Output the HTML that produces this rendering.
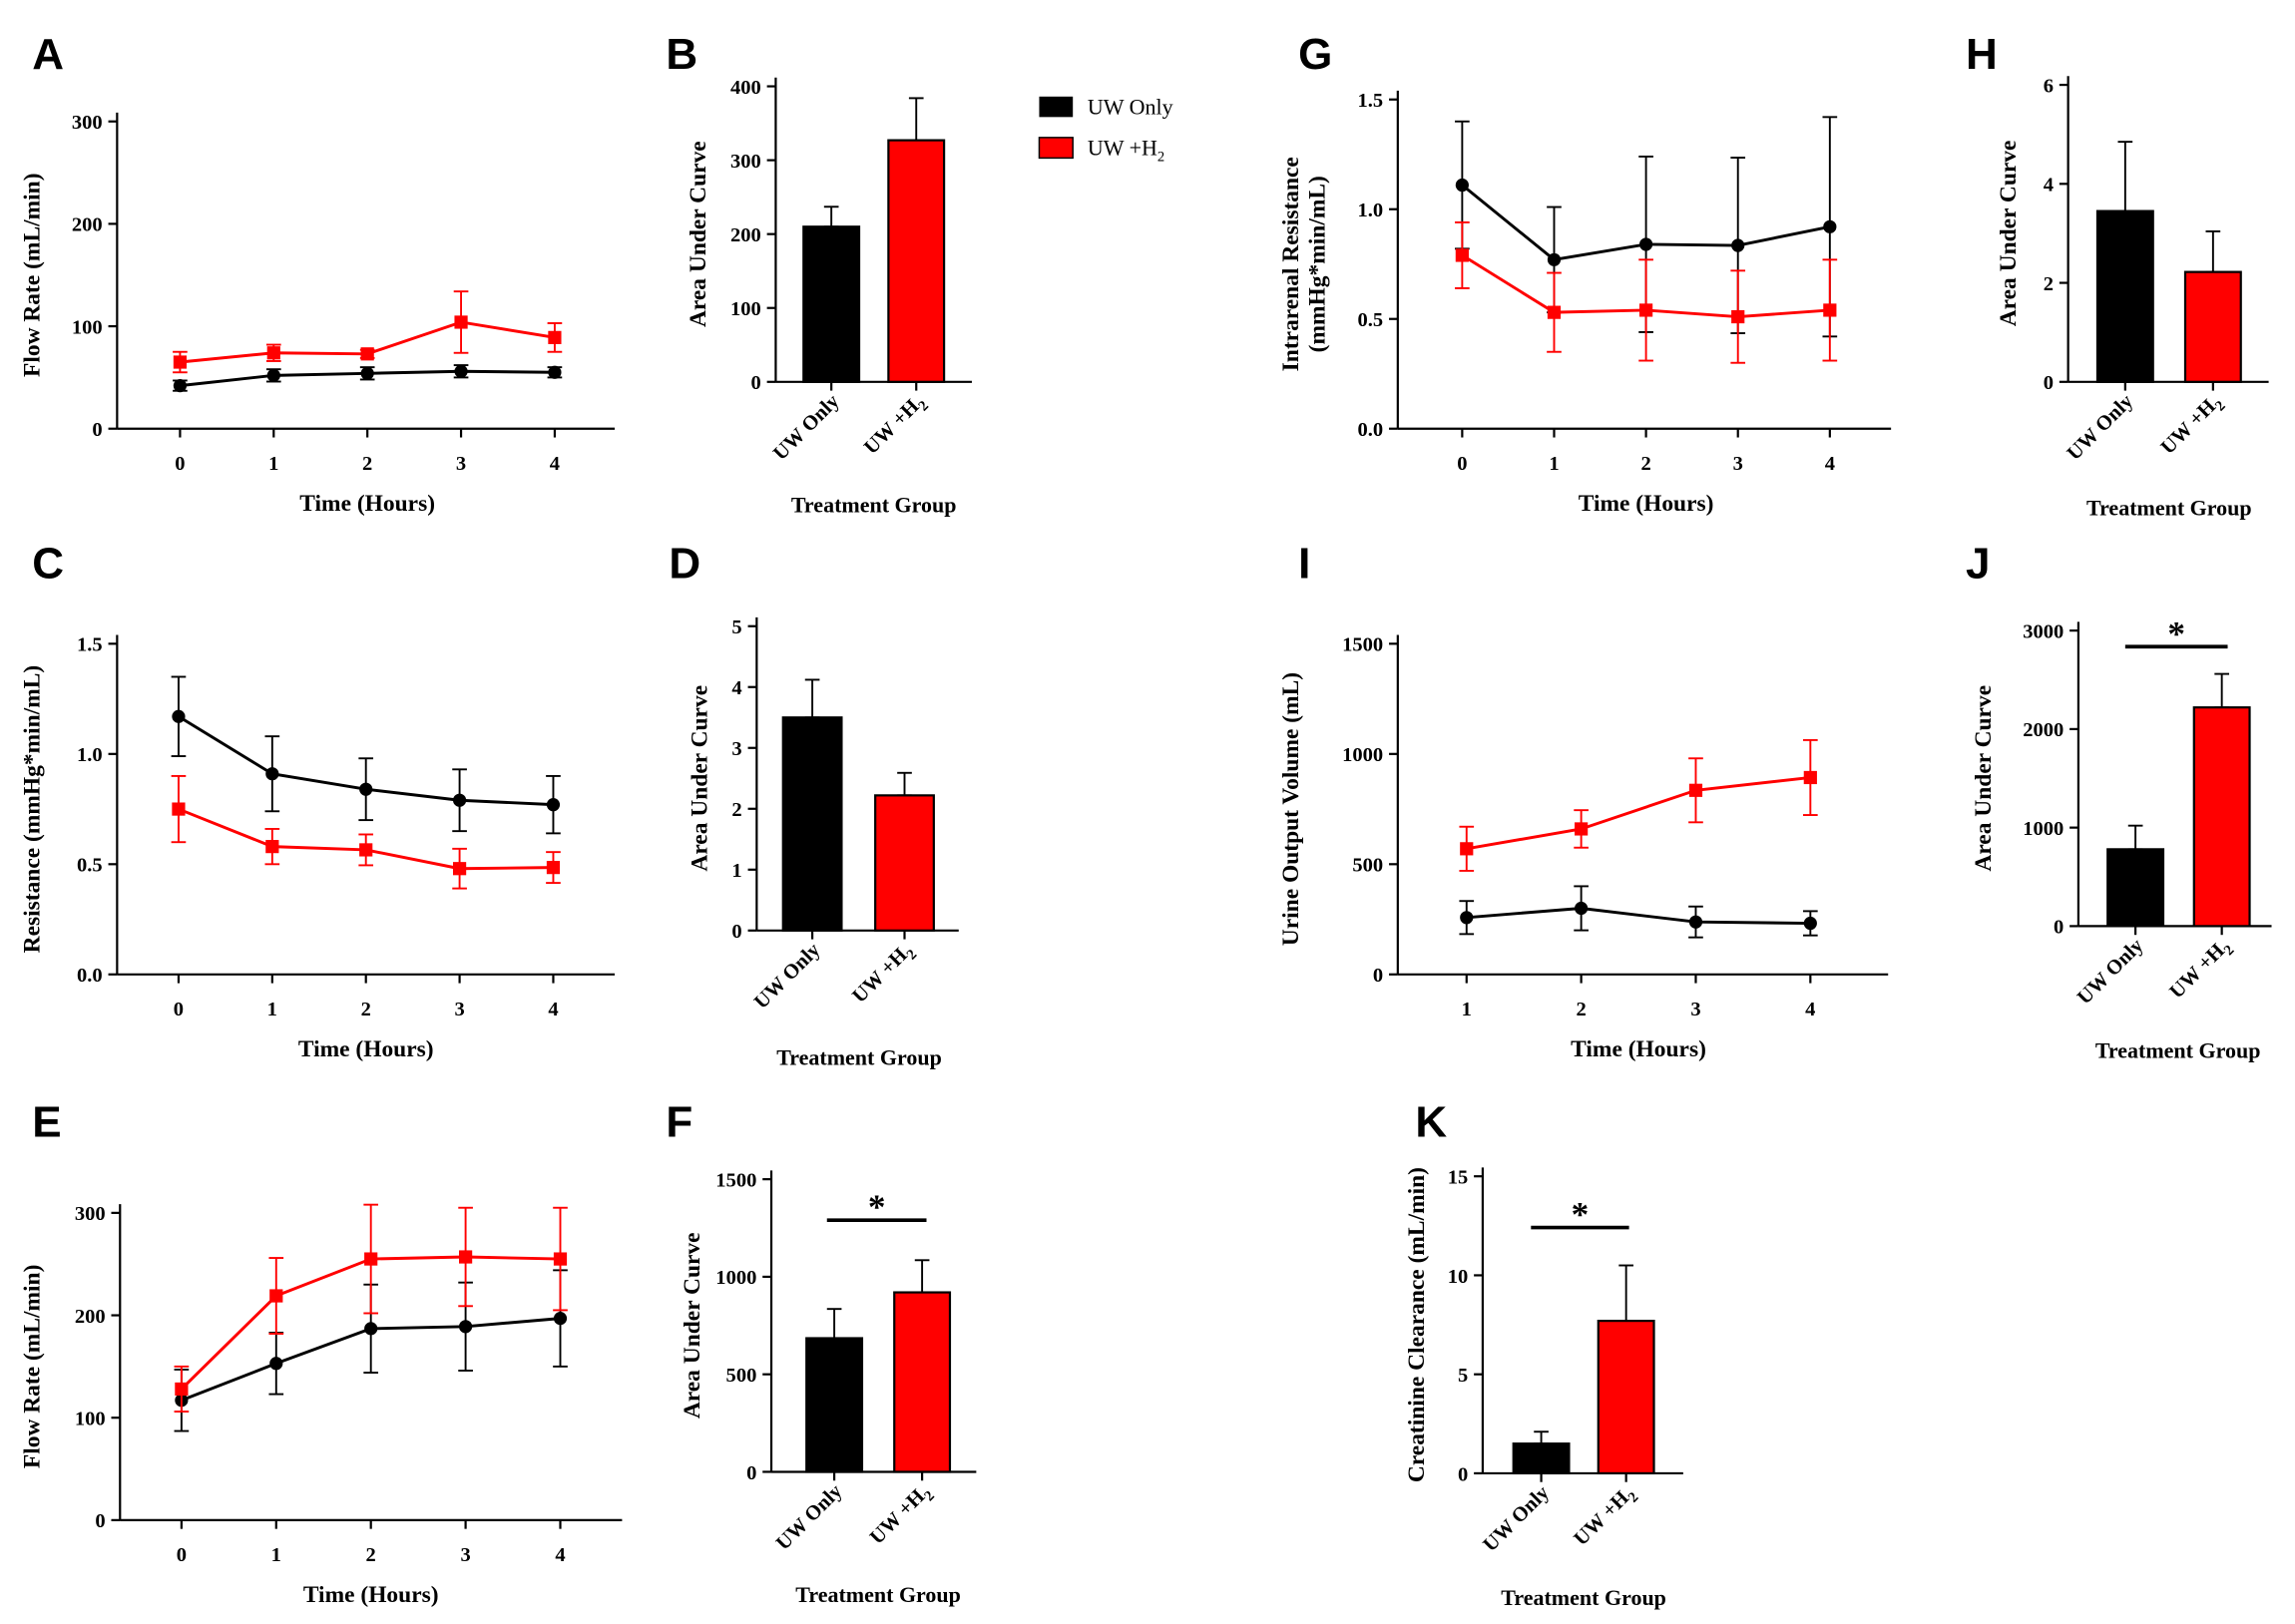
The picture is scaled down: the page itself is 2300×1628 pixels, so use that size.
<!DOCTYPE html>
<html><head><meta charset="utf-8">
<style>
html,body{margin:0;padding:0;background:#fff;}
svg{display:block;}
text{font-family:"Liberation Serif",serif;font-weight:bold;fill:#000;}
</style></head>
<body>
<svg id="fig" width="2300" height="1628" viewBox="0 0 1568 1110" preserveAspectRatio="none" xmlns="http://www.w3.org/2000/svg">
<rect width="1568" height="1110" fill="#fff"/>
<g>
<rect x="710" y="66" width="23" height="14" fill="#000"/>
<text x="743" y="78" font-size="15" style="font-weight:normal">UW Only</text>
<rect x="710" y="94" width="23" height="14" fill="#f00" stroke="#000" stroke-width="1"/>
<text x="743" y="106" font-size="15" style="font-weight:normal">UW +H<tspan font-size="10" dy="4">2</tspan></text>
</g>
</svg>
<script>
// Panel A
const aCats=["0","1","2","3","4"], aTicks=[0,100,200,300];
const aBlack=[42,52,54,56,55], aBlackErr=[5,6,6,6,5];
const aRed=[65,74,73,104,89], aRedErr=[10,8,4,30,14];
// Panel B
const bTicks=[0,100,200,300,400], bVals=[210,327], bErr=[27,57];
// Panel C
const cCats=["0","1","2","3","4"], cTicks=[0,0.5,1.0,1.5];
const cBlack=[1.17,0.91,0.84,0.79,0.77], cBlackErr=[0.18,0.17,0.14,0.14,0.13];
const cRed=[0.75,0.58,0.565,0.48,0.485], cRedErr=[0.15,0.08,0.07,0.09,0.07];
// Panel D
const dTicks=[0,1,2,3,4,5], dVals=[3.5,2.22], dErr=[0.62,0.37];
// Panel E
const eCats=["0","1","2","3","4"], eTicks=[0,100,200,300];
const eBlack=[117,153,187,189,197], eBlackErr=[30,30,43,43,47];
const eRed=[128,219,255,257,255], eRedErr=[22,37,53,48,50];
// Panel F
const fTicks=[0,500,1000,1500], fVals=[685,920], fErr=[150,165];
// Panel G
const gCats=["0","1","2","3","4"], gTicks=[0,0.5,1.0,1.5];
const gBlack=[1.11,0.77,0.84,0.835,0.92], gBlackErr=[0.29,0.24,0.40,0.40,0.50];
const gRed=[0.79,0.53,0.54,0.51,0.54], gRedErr=[0.15,0.18,0.23,0.21,0.23];
// Panel H
const hTicks=[0,2,4,6], hVals=[3.45,2.22], hErr=[1.4,0.82];
// Panel I
const iCats=["1","2","3","4"], iTicks=[0,500,1000,1500];
const iBlack=[258,300,238,232], iBlackErr=[75,100,70,55];
const iRed=[570,660,835,893], iRedErr=[100,85,145,170];
// Panel J
const jTicks=[0,1000,2000,3000], jVals=[780,2220], jErr=[240,340];
// Panel K
const kTicks=[0,5,10,15], kVals=[1.5,7.7], kErr=[0.6,2.8];

const svg=document.getElementById('fig');
const NS="http://www.w3.org/2000/svg";
function mk(tag,attrs,parent){const e=document.createElementNS(NS,tag);for(const k in attrs)e.setAttribute(k,attrs[k]);(parent||svg).appendChild(e);return e;}
function fmt(v,dec){return dec?v.toFixed(1):String(v);}

function yAxis(g,L,ticks,dec){
  const y=v=>L.zeroY-(v/L.yMax)*(L.zeroY-L.topY);
  const ax=mk('line',{x1:L.x0,x2:L.x0,y1:L.zeroY,y2:L.topY-6,stroke:'#000','stroke-width':1.5},g);
  
  ticks.forEach(t=>{
    const ty=y(t);
    const tl=mk('line',{x1:L.x0-6,x2:L.x0,y1:ty,y2:ty,stroke:'#000','stroke-width':1.5},g);
    
    const tx=mk('text',{x:L.x0-10,y:ty+5,'text-anchor':'end','font-size':14},g);
    
    tx.textContent=fmt(t,dec);
  });
  const xl=mk('line',{x1:L.x0,x2:L.x1,y1:L.zeroY,y2:L.zeroY,stroke:'#000','stroke-width':1.5},g);
  
  return y;
}
function yTitle(g,x,cy,lines){
  lines.forEach((s,i)=>{
    const t=mk('text',{x:0,y:0,'text-anchor':'middle','font-size':16,transform:`translate(${x+i*18},${cy}) rotate(-90)`},g);
    
    t.textContent=s;
  });
}
function letter(ch,x,y){
  const t=mk('text',{x:x,y:y,'font-size':30});
  
  t.style.fontFamily='"Liberation Sans",sans-serif';
  t.textContent=ch;
}
function errBar(g,x,ye1,ye2,color,name){
  const l=mk('line',{x1:x,x2:x,y1:ye1,y2:ye2,stroke:color,'stroke-width':1.3},g);
  
  [ye1,ye2].forEach(yy=>{const c=mk('line',{x1:x-5,x2:x+5,y1:yy,y2:yy,stroke:color,'stroke-width':1.3},g);
    });
}
function lineChart(id,L,cats,ticks,dec,series){
  const g=mk('g',{});
  const y=yAxis(g,L,ticks,dec);
  const x=i=>L.cx0+i*L.cdx;
  cats.forEach((c,i)=>{
    const tl=mk('line',{x1:x(i),x2:x(i),y1:L.zeroY,y2:L.zeroY+6,stroke:'#000','stroke-width':1.5},g);
    
    const t=mk('text',{x:x(i),y:L.zeroY+28,'text-anchor':'middle','font-size':14},g);
    
    t.textContent=c;
  });
  const xt=mk('text',{x:(L.cx0+x(cats.length-1))/2,y:L.zeroY+56,'text-anchor':'middle','font-size':16},g);
  
  xt.textContent='Time (Hours)';
  series.forEach(s=>{
    s.vals.forEach((v,i)=>errBar(g,x(i),y(v+s.err[i]),y(v-s.err[i]),s.color,s.name+'-error-bar'));
    const p=mk('polyline',{points:s.vals.map((v,i)=>x(i)+','+y(v)).join(' '),fill:'none',stroke:s.color,'stroke-width':2},g);
    
    s.vals.forEach((v,i)=>{
      let m;
      if(s.square)m=mk('rect',{x:x(i)-4.5,y:y(v)-4.5,width:9,height:9,fill:s.color},g);
      else m=mk('circle',{cx:x(i),cy:y(v),r:4.5,fill:s.color},g);
      
    });
  });
  yTitle(g,L.titleX,(L.zeroY+L.topY)/2,L.title);
}
function barChart(id,L,ticks,vals,errs,sig){
  const g=mk('g',{});
  const y=yAxis(g,L,ticks,false);
  const colors=['#000','#f00'];
  vals.forEach((v,i)=>{
    const cx=L.bx0+i*L.bdx;
    errBar(g,cx,y(v+errs[i]),y(v),'#000',(i?'uw-h2':'uw-only')+'-error-bar');
    const r=mk('rect',{x:cx-L.bw/2,y:y(v),width:L.bw,height:L.zeroY-y(v),fill:colors[i],stroke:'#000','stroke-width':1.5},g);
    
    const tk=mk('line',{x1:cx,x2:cx,y1:L.zeroY,y2:L.zeroY+6,stroke:'#000','stroke-width':1.5},g);
    
    const t=mk('text',{x:0,y:0,'text-anchor':'end','font-size':14,transform:`translate(${cx+6},${L.zeroY+14}) rotate(-45)`},g);
    
    if(i) t.innerHTML='UW +H<tspan font-size="10" dy="4">2</tspan>'; else t.textContent='UW Only';
  });
  const xt=mk('text',{x:L.tgX,y:L.tgY,'text-anchor':'middle','font-size':15},g);
  
  xt.textContent='Treatment Group';
  if(sig){
    const l=mk('line',{x1:sig[0],x2:sig[1],y1:sig[2],y2:sig[2],stroke:'#000','stroke-width':2.5},g);
    
    const s=mk('text',{x:(sig[0]+sig[1])/2,y:sig[2]-1,'text-anchor':'middle','font-size':24},g);
    
    s.textContent='*';
  }
  yTitle(g,L.titleX,(L.zeroY+L.topY)/2,[L.title||'Area Under Curve']);
}
const BLK=(v,e)=>({vals:v,err:e,color:'#000',square:false,name:'uw-only'});
const RED=(v,e)=>({vals:v,err:e,color:'#f00',square:true,name:'uw-h2'});

lineChart('a',{x0:80,x1:420,zeroY:293,topY:83,yMax:300,cx0:123,cdx:64,titleX:27,title:['Flow Rate (mL/min)']},aCats,aTicks,false,[BLK(aBlack,aBlackErr),RED(aRed,aRedErr)]);
barChart('b',{x0:530,x1:664,zeroY:261,topY:59,yMax:400,bx0:568,bdx:58,bw:38,tgX:597,tgY:350,titleX:482},bTicks,bVals,bErr,null);
lineChart('c',{x0:80,x1:420,zeroY:666,topY:440,yMax:1.5,cx0:122,cdx:64,titleX:27,title:['Resistance (mmHg*min/mL)']},cCats,cTicks,true,[BLK(cBlack,cBlackErr),RED(cRed,cRedErr)]);
barChart('d',{x0:517,x1:655,zeroY:636,topY:428,yMax:5,bx0:555,bdx:63,bw:40,tgX:587,tgY:728,titleX:483},dTicks,dVals,dErr,null);
lineChart('e',{x0:82,x1:425,zeroY:1039,topY:829,yMax:300,cx0:124,cdx:64.7,titleX:27,title:['Flow Rate (mL/min)']},eCats,eTicks,false,[BLK(eBlack,eBlackErr),RED(eRed,eRedErr)]);
barChart('f',{x0:527,x1:667,zeroY:1006,topY:806,yMax:1500,bx0:570,bdx:60,bw:38,tgX:600,tgY:1095,titleX:478},fTicks,fVals,fErr,[565,633,834]);
lineChart('g',{x0:955,x1:1292,zeroY:293,topY:68,yMax:1.5,cx0:999,cdx:62.8,titleX:887,title:['Intrarenal Resistance','(mmHg*min/mL)']},gCats,gTicks,true,[BLK(gBlack,gBlackErr),RED(gRed,gRedErr)]);
barChart('h',{x0:1413,x1:1550,zeroY:261,topY:58,yMax:6,bx0:1452,bdx:60,bw:38,tgX:1482,tgY:352,titleX:1377},hTicks,hVals,hErr,null);
lineChart('i',{x0:955,x1:1290,zeroY:666,topY:440,yMax:1500,cx0:1002,cdx:78.3,titleX:887,title:['Urine Output Volume (mL)']},iCats,iTicks,false,[BLK(iBlack,iBlackErr),RED(iRed,iRedErr)]);
barChart('j',{x0:1420,x1:1552,zeroY:633,topY:431,yMax:3000,bx0:1459,bdx:59,bw:38,tgX:1488,tgY:723,titleX:1360},jTicks,jVals,jErr,[1452,1522,442]);
barChart('k',{x0:1013,x1:1150,zeroY:1007,topY:804,yMax:15,bx0:1053,bdx:58,bw:38,tgX:1082,tgY:1097,titleX:973,title:'Creatinine Clearance (mL/min)'},kTicks,kVals,kErr,[1046,1113,839]);

[['A',22,47],['B',455,47],['C',22,395],['D',457,395],['E',22,777],['F',455,777],['G',887,47],['H',1343,47],['I',887,395],['J',1343,395],['K',967,777]].forEach(a=>letter(a[0],a[1],a[2]));
</script>
</body></html>
